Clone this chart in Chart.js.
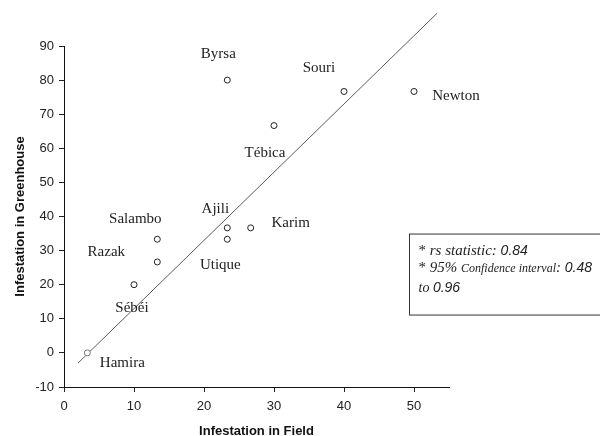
<!DOCTYPE html>
<html>
<head>
<meta charset="utf-8">
<script src="https://cdn.jsdelivr.net/npm/chart.js@4"></script>
<style>
html,body{margin:0;padding:0;background:#fff;}
#wrap{width:600px;height:436px;position:relative;}
</style>
</head>
<body>
<div id="wrap"><canvas id="c" width="600" height="436"></canvas></div>
<script>
// ---- data ----
const sites = ['Hamira','Sébéi','Razak','Salambo','Ajili','Utique','Karim','Tébica','Byrsa','Souri','Newton'];
const fieldInfestation = [3.33, 10, 13.33, 13.33, 23.33, 23.33, 26.67, 30, 23.33, 40, 50];
const greenhouseInfestation = [0, 20, 26.67, 33.33, 36.67, 33.33, 36.67, 66.67, 80, 76.67, 76.67];
const fitLineX = [2, 53.3];
const fitLineY = [-3, 99.6];
const xTicks = [0, 10, 20, 30, 40, 50];
const yTicks = [-10, 0, 10, 20, 30, 40, 50, 60, 70, 80, 90];
const statsLines = [
  [['* ', 'normal', 15, 'Liberation Serif'], ['rs statistic: ', 'italic', 15, 'Liberation Serif'], ['0.84', 'italic', 14, 'Liberation Sans']],
  [['* ', 'normal', 15, 'Liberation Serif'], ['95% ', 'italic', 15, 'Liberation Serif'], ['Confidence interval', 'italic', 12, 'Liberation Serif'], [': ', 'italic', 15, 'Liberation Serif'], ['0.48', 'italic', 14, 'Liberation Sans']],
  [['to ', 'italic', 14, 'Liberation Serif'], ['0.96', 'italic', 14, 'Liberation Sans']]
];

// label offsets (pixels, from point to text centre)
const labelOffsets = [[35,10],[-2,23],[-51,-10],[-22,-20],[-12,-19],[-7,26],[40,-5],[-9,28],[-9,-26],[-25,-23],[42,5]];

const points = fieldInfestation.map((x, i) => ({x: x, y: greenhouseInfestation[i]}));
const fitPoints = fitLineX.map((x, i) => ({x: x, y: fitLineY[i]}));

const labelPlugin = {
  id: 'labels',
  afterDatasetsDraw(chart) {
    const ctx = chart.ctx;
    const meta = chart.getDatasetMeta(1);
    ctx.save();
    ctx.font = '15px "Liberation Serif"';
    ctx.fillStyle = '#222';
    ctx.textAlign = 'center';
    ctx.textBaseline = 'middle';
    meta.data.forEach((el, i) => {
      const o = labelOffsets[i];
      ctx.fillText(sites[i], el.x + o[0], el.y + o[1]);
    });
    ctx.restore();
  }
};

const boxPlugin = {
  id: 'statsBox',
  afterDraw(chart) {
    const ctx = chart.ctx;
    const ca = chart.chartArea;
    ctx.save();
    const bx = ca.right - 39.5, by = chart.scales.y.getPixelForValue(35) + 0.5;
    const bh = 81;
    ctx.strokeStyle = '#333';
    ctx.lineWidth = 1;
    ctx.strokeRect(bx, by, 250, bh);
    ctx.fillStyle = '#222';
    ctx.textBaseline = 'alphabetic';
    ctx.textAlign = 'left';
    const baselines = [by + 21, by + 38, by + 58];
    statsLines.forEach((line, li) => {
      let x = bx + 9;
      line.forEach(seg => {
        ctx.font = seg[1] + ' ' + seg[2] + 'px "' + seg[3] + '"';
        ctx.fillText(seg[0], x, baselines[li]);
        x += ctx.measureText(seg[0]).width;
      });
    });
    ctx.restore();
  }
};

new Chart(document.getElementById('c'), {
  type: 'scatter',
  data: {
    datasets: [
      {
        type: 'line',
        data: fitPoints,
        borderColor: '#5a5a5a',
        borderWidth: 1,
        pointRadius: 0,
        fill: false,
        clip: false,
        order: 2
      },
      {
        data: points,
        pointRadius: 3,
        pointBorderWidth: 1,
        pointBackgroundColor: '#fff',
        pointBorderColor: points.map((p, i) => i === 0 ? '#777' : '#222'),
        showLine: false,
        order: 1
      }
    ]
  },
  options: {
    responsive: false,
    animation: false,
    devicePixelRatio: 1,
    layout: {padding: {top: 46, right: 151, left: 0, bottom: 0}},
    plugins: {legend: {display: false}, tooltip: {enabled: false}},
    scales: {
      x: {
        type: 'linear',
        min: 0, max: 55,
        afterFit(s) { s.height = 49; },
        afterBuildTicks(s) { s.ticks = xTicks.map(v => ({value: v})); },
        ticks: {stepSize: 10, includeBounds: false, color: '#222', font: {family: 'Liberation Sans', size: 13}, padding: 7},
        grid: {drawOnChartArea: false, drawTicks: true, tickLength: 5, color: '#222'},
        border: {display: true, color: '#111', width: 1},
        title: {display: true, text: 'Infestation in Field', color: '#111', font: {family: 'Liberation Sans', size: 13, weight: 'bold', lineHeight: 0.7}, padding: {top: 0, bottom: 0}}
      },
      y: {
        type: 'linear',
        min: -10, max: 90,
        afterFit(s) { s.width = 64; },
        afterBuildTicks(s) { s.ticks = yTicks.map(v => ({value: v})); },
        ticks: {stepSize: 10, color: '#222', font: {family: 'Liberation Sans', size: 13}, padding: 5},
        grid: {drawOnChartArea: false, drawTicks: true, tickLength: 5, color: '#222'},
        border: {display: true, color: '#111', width: 1},
        title: {display: true, text: 'Infestation in Greenhouse', color: '#111', font: {family: 'Liberation Sans', size: 13, weight: 'bold', lineHeight: 1}, padding: {top: 14, bottom: 0}}
      }
    }
  },
  plugins: [labelPlugin, boxPlugin]
});
</script>
</body>
</html>
